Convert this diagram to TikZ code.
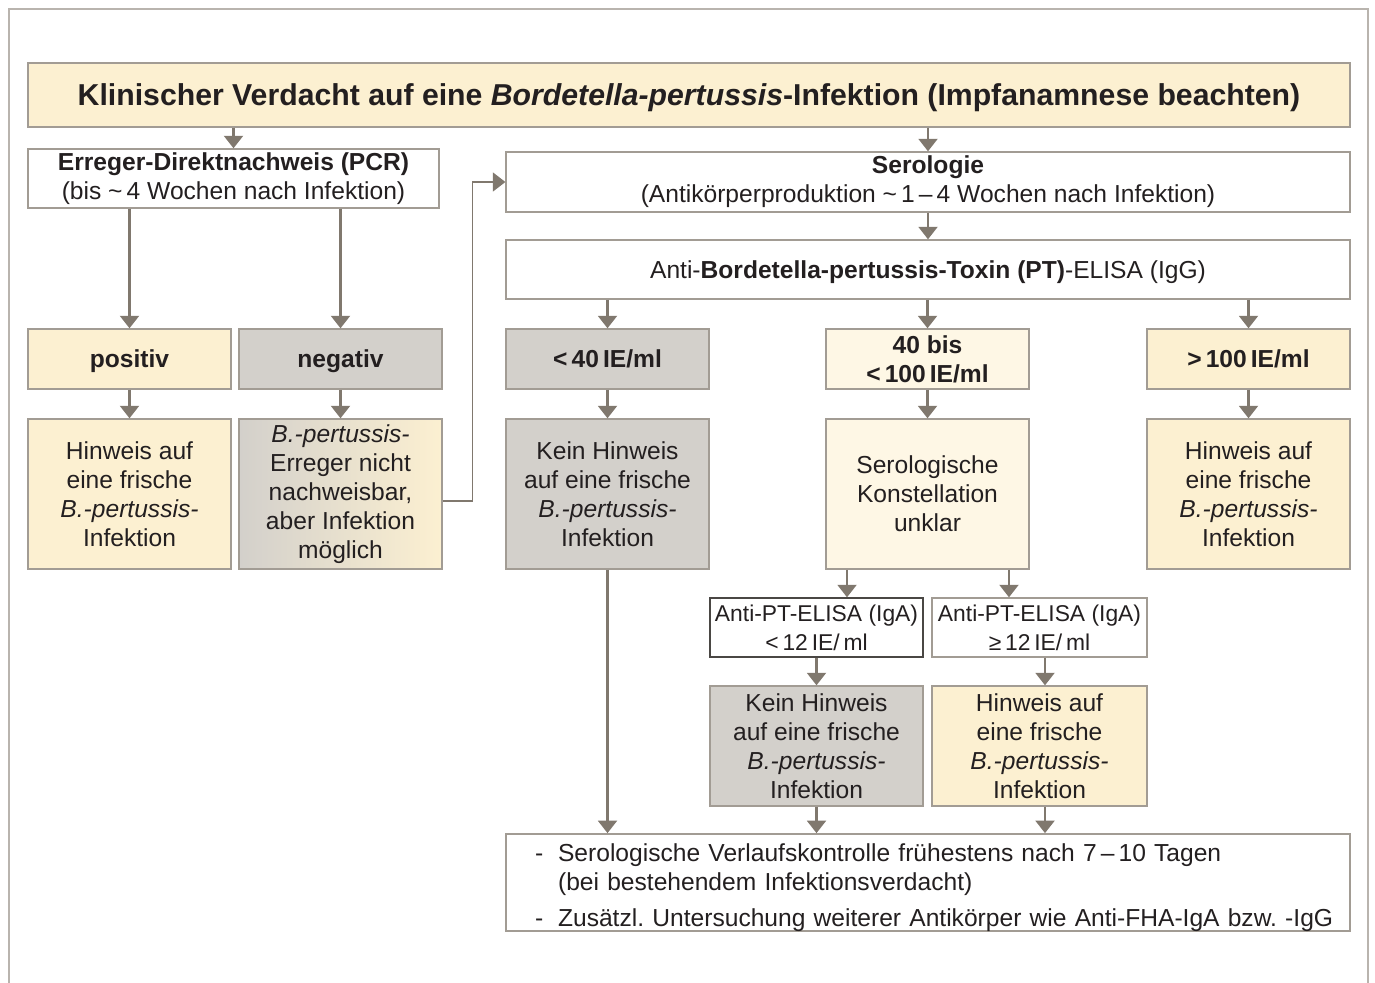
\documentclass[tikz,border=0pt]{standalone}
\usepackage{fontspec}
\setmainfont{Liberation Sans}
\usetikzlibrary{arrows.meta}

\definecolor{FrameGray}{HTML}{B9B4AE}
\definecolor{BoxBorder}{HTML}{A29C94}
\definecolor{BoxBorderDark}{HTML}{4A4744}
\definecolor{BoxCream}{HTML}{FCF0D1}
\definecolor{BoxCreamLight}{HTML}{FEF7E5}
\definecolor{BoxGray}{HTML}{D3D0CB}
\definecolor{ArrowGray}{HTML}{80786E}
\definecolor{TextDark}{HTML}{231F20}

\tikzset{
  box/.style={draw=BoxBorder, line width=0.8pt, rectangle, inner sep=0pt,
    align=center, text=TextDark, font=\fontsize{14}{16.5}\selectfont},
  boxbold/.style={box, font=\fontsize{14}{16.5}\selectfont\bfseries},
  oneline/.style={text depth=0pt},
  flow/.style={draw=ArrowGray, line width=1.2pt,
    -{Triangle[width=0.38cm,length=0.25cm]}},
}

\begin{document}
\begin{tikzpicture}[x=0.02cm, y=-0.02cm]
\useasboundingbox (0,0) rectangle (1375,983);
\draw[FrameGray, line width=1.2pt] (9,983) -- (9,9) -- (1368,9) -- (1368,983);

\node[box, oneline, fill=BoxCream, minimum width=26.44cm, minimum height=1.28cm,
  font=\fontsize{17.2}{20}\selectfont\bfseries] (verdacht) at (689,95)
  {Klinischer Verdacht auf eine \textit{Bordetella-pertussis}-Infektion (Impfanamnese beachten)};

\node[box, minimum width=8.22cm, minimum height=1.18cm] (pcr) at (233.5,178.5)
  {\textbf{Erreger-Direktnachweis (PCR)}\\(bis \textasciitilde\,4 Wochen nach Infektion)};
\node[box, minimum width=16.88cm, minimum height=1.2cm] (sero) at (928,182)
  {\textbf{Serologie}\\(Antikörperproduktion \textasciitilde\,1\,–\,4 Wochen nach Infektion)};
\node[box, oneline, minimum width=16.88cm, minimum height=1.18cm] (elisa) at (928,269.5)
  {Anti-\textbf{Bordetella-pertussis-Toxin (PT)}-ELISA (IgG)};

\node[boxbold, oneline, fill=BoxCream, minimum width=4.06cm, minimum height=1.2cm] (pos) at (129.5,359) {positiv};
\node[boxbold, oneline, fill=BoxGray, minimum width=4.06cm, minimum height=1.2cm] (neg) at (340.5,359) {negativ};
\node[boxbold, oneline, fill=BoxGray, minimum width=4.06cm, minimum height=1.2cm] (lowIgG) at (607.5,359) {<\,40\,IE/ml};
\node[boxbold, fill=BoxCreamLight, minimum width=4.06cm, minimum height=1.2cm] (midIgG) at (927.5,359) {40 bis\\<\,100\,IE/ml};
\node[boxbold, oneline, fill=BoxCream, minimum width=4.06cm, minimum height=1.2cm] (highIgG) at (1248.5,359) {>\,100\,IE/ml};

\node[box, fill=BoxCream, minimum width=4.06cm, minimum height=3cm] (posRes) at (129.5,494)
  {Hinweis auf\\eine frische\\\textit{B.-pertussis-}\\Infektion};
\node[box, left color=BoxGray, right color=BoxCream, minimum width=4.06cm, minimum height=3cm] (negRes) at (340.5,494)
  {\textit{B.-pertussis-}\\Erreger nicht\\nachweisbar,\\aber Infektion\\möglich};
\node[box, fill=BoxGray, minimum width=4.06cm, minimum height=3cm] (lowRes) at (607.5,494)
  {Kein Hinweis\\auf eine frische\\\textit{B.-pertussis-}\\Infektion};
\node[box, fill=BoxCreamLight, minimum width=4.06cm, minimum height=3cm] (midRes) at (927.5,494)
  {Serologische\\Konstellation\\unklar};
\node[box, fill=BoxCream, minimum width=4.06cm, minimum height=3cm] (highRes) at (1248.5,494)
  {Hinweis auf\\eine frische\\\textit{B.-pertussis-}\\Infektion};

\node[box, draw=BoxBorderDark, minimum width=4.26cm, minimum height=1.18cm,
  font=\fontsize{13}{16.5}\selectfont] (igaLow) at (816.5,627.5)
  {Anti-PT-ELISA (IgA)\\<\,12\,IE/\,ml};
\node[box, minimum width=4.3cm, minimum height=1.18cm,
  font=\fontsize{13}{16.5}\selectfont] (igaHigh) at (1039.5,627.5)
  {Anti-PT-ELISA (IgA)\\≥\,12\,IE/\,ml};
\node[box, fill=BoxGray, minimum width=4.26cm, minimum height=2.4cm] (igaLowRes) at (816.5,746)
  {Kein Hinweis\\auf eine frische\\\textit{B.-pertussis-}\\Infektion};
\node[box, fill=BoxCream, minimum width=4.3cm, minimum height=2.4cm] (igaHighRes) at (1039.5,746)
  {Hinweis auf\\eine frische\\\textit{B.-pertussis-}\\Infektion};

\node[box, minimum width=16.88cm, minimum height=1.94cm, text width=16.8cm, align=left,
  font=\fontsize{14}{16}\selectfont] (kontrolle) at (928,882.5)
  {\frenchspacing
   \rule{0pt}{16pt}\hspace*{0.54cm}\makebox[0.46cm][l]{-}Serologische Verlaufskontrolle frühestens nach 7\,–\,10 Tagen\\
   \hspace*{1cm}(bei bestehendem Infektionsverdacht)\\[4.5pt]
   \hspace*{0.54cm}\makebox[0.46cm][l]{-}Zusätzl. Untersuchung weiterer Antikörper wie Anti-FHA-IgA bzw. -IgG};

\draw[flow] (verdacht.south -| pcr) -- (pcr.north);
\draw[flow] (verdacht.south -| sero) -- (sero.north);
\draw[flow] (sero) -- (elisa);
\draw[flow] (pcr.south -| pos) -- (pos.north);
\draw[flow] (pcr.south -| neg) -- (neg.north);
\draw[flow] (elisa.south -| lowIgG) -- (lowIgG.north);
\draw[flow] (elisa.south -| midIgG) -- (midIgG.north);
\draw[flow] (elisa.south -| highIgG) -- (highIgG.north);
\draw[flow] (pos) -- (posRes);
\draw[flow] (neg) -- (negRes);
\draw[flow] (lowIgG) -- (lowRes);
\draw[flow] (midIgG) -- (midRes);
\draw[flow] (highIgG) -- (highRes);
\draw[flow, line width=0.7pt] ([yshift=-0.14cm]negRes.east) -- ++(30,0) |- (sero.west);
\draw[flow] ([xshift=-1.61cm]midRes.south) -- ([xshift=-1.61cm]midRes.south |- igaLow.north);
\draw[flow] ([xshift=1.63cm]midRes.south) -- ([xshift=1.63cm]midRes.south |- igaHigh.north);
\draw[flow] (igaLow) -- (igaLowRes);
\draw[flow] ([xshift=0.11cm]igaHigh.south) -- ([xshift=0.11cm]igaHighRes.north);
\draw[flow] (lowRes.south) -- (lowRes.south |- kontrolle.north);
\draw[flow] (igaLowRes.south) -- (igaLowRes.south |- kontrolle.north);
\draw[flow] ([xshift=0.11cm]igaHighRes.south) -- ([xshift=0.11cm]igaHighRes.south |- kontrolle.north);

\end{tikzpicture}
\end{document}
